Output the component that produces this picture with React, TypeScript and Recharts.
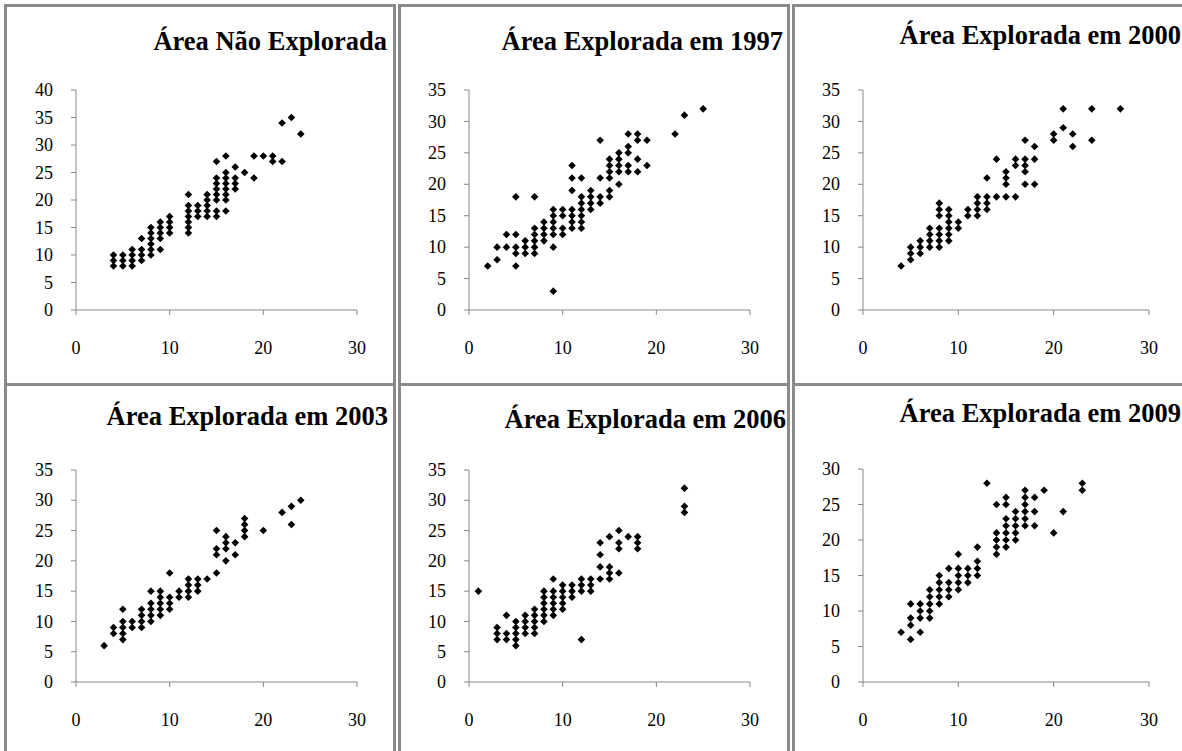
import { ScatterChart, Scatter, XAxis, YAxis } from 'recharts'

// Pontos (x, y). Cada painel é um ano/área.
const naoExplorada: [number, number][] = [
  [4, 10], [4, 9], [4, 8],
  [5, 10], [5, 9], [5, 8],
  [6, 11], [6, 10], [6, 9], [6, 8],
  [7, 13], [7, 11], [7, 10], [7, 9],
  [8, 15], [8, 14], [8, 13], [8, 12], [8, 11], [8, 10],
  [9, 16], [9, 15], [9, 14], [9, 13], [9, 11],
  [10, 17], [10, 16], [10, 15], [10, 14],
  [12, 21], [12, 19], [12, 18], [12, 17], [12, 16], [12, 15], [12, 14],
  [13, 19], [13, 18], [13, 17],
  [14, 21], [14, 20], [14, 19], [14, 18], [14, 17],
  [15, 27], [15, 24], [15, 23], [15, 22], [15, 21], [15, 20], [15, 18], [15, 17],
  [16, 28], [16, 25], [16, 24], [16, 23], [16, 22], [16, 21], [16, 20], [16, 18],
  [17, 26], [17, 24], [17, 23], [17, 22],
  [18, 25], [19, 28], [19, 24], [20, 28], [21, 28], [21, 27],
  [22, 34], [22, 27], [23, 35], [24, 32],
]

const explorada1997: [number, number][] = [
  [2, 7], [3, 10], [3, 8], [4, 12], [4, 10],
  [5, 18], [5, 12], [5, 10], [5, 9], [5, 7],
  [6, 11], [6, 10], [6, 9],
  [7, 18], [7, 13], [7, 12], [7, 11], [7, 10], [7, 9],
  [8, 14], [8, 13], [8, 12], [8, 11],
  [9, 16], [9, 15], [9, 14], [9, 13], [9, 12], [9, 10], [9, 3],
  [10, 16], [10, 15], [10, 13], [10, 12],
  [11, 23], [11, 21], [11, 19], [11, 16], [11, 15], [11, 14], [11, 13],
  [12, 21], [12, 18], [12, 17], [12, 16], [12, 15], [12, 14], [12, 13],
  [13, 19], [13, 18], [13, 17], [13, 16],
  [14, 27], [14, 21], [14, 18], [14, 17],
  [15, 24], [15, 23], [15, 22], [15, 21], [15, 19], [15, 18],
  [16, 25], [16, 24], [16, 23], [16, 22], [16, 20],
  [17, 28], [17, 26], [17, 25], [17, 23], [17, 22],
  [18, 28], [18, 27], [18, 24], [18, 22],
  [19, 27], [19, 23], [22, 28], [23, 31], [25, 32],
]

const explorada2000: [number, number][] = [
  [4, 7], [5, 10], [5, 9], [5, 8],
  [6, 11], [6, 10], [6, 9],
  [7, 13], [7, 12], [7, 11], [7, 10],
  [8, 17], [8, 16], [8, 15], [8, 13], [8, 12], [8, 11], [8, 10],
  [9, 16], [9, 15], [9, 14], [9, 13], [9, 12], [9, 11],
  [10, 14], [10, 13], [11, 16], [11, 15],
  [12, 18], [12, 17], [12, 16], [12, 15],
  [13, 21], [13, 18], [13, 17], [13, 16],
  [14, 24], [14, 18],
  [15, 22], [15, 21], [15, 20], [15, 18],
  [16, 24], [16, 23], [16, 18],
  [17, 27], [17, 24], [17, 23], [17, 22], [17, 20],
  [18, 26], [18, 24], [18, 20],
  [20, 28], [20, 27], [21, 32], [21, 29], [22, 28], [22, 26],
  [24, 32], [24, 27], [27, 32],
]

const explorada2003: [number, number][] = [
  [3, 6], [4, 9], [4, 8],
  [5, 12], [5, 10], [5, 9], [5, 8], [5, 7],
  [6, 10], [6, 9],
  [7, 12], [7, 11], [7, 10], [7, 9],
  [8, 15], [8, 13], [8, 12], [8, 11], [8, 10],
  [9, 15], [9, 14], [9, 13], [9, 12], [9, 11],
  [10, 18], [10, 14], [10, 13], [10, 12],
  [11, 15], [11, 14],
  [12, 17], [12, 16], [12, 15], [12, 14],
  [13, 17], [13, 16], [13, 15], [14, 17],
  [15, 25], [15, 22], [15, 21], [15, 18],
  [16, 24], [16, 23], [16, 22], [16, 20],
  [17, 23], [17, 21],
  [18, 27], [18, 26], [18, 25], [18, 24],
  [20, 25], [22, 28], [23, 29], [23, 26], [24, 30],
]

const explorada2006: [number, number][] = [
  [1, 15], [3, 9], [3, 8], [3, 7], [4, 11], [4, 8], [4, 7],
  [5, 10], [5, 9], [5, 8], [5, 7], [5, 6],
  [6, 11], [6, 10], [6, 9], [6, 8],
  [7, 12], [7, 11], [7, 10], [7, 9], [7, 8],
  [8, 15], [8, 14], [8, 13], [8, 12], [8, 11], [8, 10],
  [9, 17], [9, 15], [9, 14], [9, 13], [9, 12], [9, 11],
  [10, 16], [10, 15], [10, 14], [10, 13], [10, 12],
  [11, 16], [11, 15], [11, 14],
  [12, 17], [12, 16], [12, 15], [12, 7],
  [13, 17], [13, 16], [13, 15],
  [14, 23], [14, 21], [14, 19], [14, 17],
  [15, 24], [15, 19], [15, 18], [15, 17],
  [16, 25], [16, 23], [16, 22], [16, 18],
  [17, 24], [18, 24], [18, 23], [18, 22],
  [23, 32], [23, 29], [23, 28],
]

const explorada2009: [number, number][] = [
  [4, 7], [5, 11], [5, 9], [5, 8], [5, 6],
  [6, 11], [6, 10], [6, 9], [6, 7],
  [7, 13], [7, 12], [7, 11], [7, 10], [7, 9],
  [8, 15], [8, 14], [8, 13], [8, 12], [8, 11],
  [9, 16], [9, 14], [9, 13], [9, 12],
  [10, 18], [10, 16], [10, 15], [10, 14], [10, 13],
  [11, 16], [11, 15], [11, 14],
  [12, 19], [12, 17], [12, 16], [12, 15],
  [13, 28],
  [14, 25], [14, 21], [14, 20], [14, 19], [14, 18],
  [15, 26], [15, 25], [15, 23], [15, 22], [15, 21], [15, 20], [15, 19],
  [16, 24], [16, 23], [16, 22], [16, 21], [16, 20],
  [17, 27], [17, 26], [17, 25], [17, 24], [17, 23], [17, 22],
  [18, 26], [18, 24], [18, 22],
  [19, 27], [20, 21], [21, 24], [23, 28], [23, 27],
]

const titulos = [
  'Área Não Explorada',
  'Área Explorada em 1997',
  'Área Explorada em 2000',
  'Área Explorada em 2003',
  'Área Explorada em 2006',
  'Área Explorada em 2009',
]
const series = [naoExplorada, explorada1997, explorada2000, explorada2003, explorada2006, explorada2009]
const yMaximos = [40, 35, 35, 35, 35, 30]
const xTicks = [0, 10, 20, 30]

const EIXO = '#878787'
const MOLDURA = '#8a8a8a'
const FONTE = "'Liberation Serif', 'Times New Roman', serif"

// Área de plotagem de cada painel em coordenadas da página (medido na imagem).
const plots = [
  { l: 76, t: 90, w: 281, h: 220 },
  { l: 469, t: 90, w: 281, h: 220 },
  { l: 863, t: 90, w: 286, h: 220 },
  { l: 76, t: 470, w: 281, h: 212 },
  { l: 469, t: 470, w: 281, h: 212 },
  { l: 863, t: 469, w: 286, h: 213 },
]
// Título: borda direita e linha de base.
const titulosPos = [
  { r: 387, b: 50 },
  { r: 783, b: 50 },
  { r: 1181, b: 44 },
  { r: 388, b: 425 },
  { r: 786, b: 428 },
  { r: 1181, b: 422 },
]
const caixas = [
  { l: 4, t: 4, w: 392, h: 382 },
  { l: 398, t: 4, w: 392, h: 382 },
  { l: 792, t: 4, w: 400, h: 382 },
  { l: 4, t: 383, w: 392, h: 380 },
  { l: 398, t: 383, w: 392, h: 380 },
  { l: 792, t: 383, w: 400, h: 380 },
]

const Losango = (props: any) => {
  const { cx, cy } = props
  const r = 3.8
  return <polygon points={`${cx},${cy - r} ${cx + r},${cy} ${cx},${cy + r} ${cx - r},${cy}`} fill="#000" />
}

// Rótulos dos eixos desenhados à mão para garantir a fonte serifada.
const TickX = (props: any) => {
  const { x, y, payload } = props
  return (
    <text x={x} y={y} dy="0.71em" textAnchor="middle" fill="#000" style={{ fontFamily: FONTE, fontSize: 18 }}>
      {payload.value}
    </text>
  )
}
const TickY = (props: any) => {
  const { x, y, payload } = props
  return (
    <text x={x} y={y} dy="0.34em" textAnchor="end" fill="#000" style={{ fontFamily: FONTE, fontSize: 18 }}>
      {payload.value}
    </text>
  )
}

const Y_LARG = 60
const M_TOPO = 10
const M_DIR = 20
const X_ALT = 50
const TITULO_FS = 26.5

function Painel({ i }: { i: number }) {
  const p = plots[i]
  const yMax = yMaximos[i]
  const yTicks: number[] = []
  for (let v = 0; v <= yMax; v += 5) yTicks.push(v)
  const dados = series[i].map(([x, y]) => ({ x, y }))
  return (
    <div style={{ position: 'absolute', left: p.l - Y_LARG, top: p.t - M_TOPO }}>
      <ScatterChart
        width={Y_LARG + p.w + M_DIR}
        height={M_TOPO + p.h + X_ALT}
        margin={{ top: M_TOPO, right: M_DIR, bottom: 0, left: 0 }}
      >
        <XAxis
          type="number"
          dataKey="x"
          domain={[0, 30]}
          ticks={xTicks}
          interval={0}
          height={X_ALT}
          tickSize={5}
          tickMargin={26}
          axisLine={{ stroke: EIXO }}
          tickLine={{ stroke: EIXO }}
          tick={<TickX />}
        />
        <YAxis
          type="number"
          dataKey="y"
          domain={[0, yMax]}
          ticks={yTicks}
          interval={0}
          width={Y_LARG}
          tickSize={5}
          tickMargin={18}
          axisLine={{ stroke: EIXO }}
          tickLine={{ stroke: EIXO }}
          tick={<TickY />}
        />
        <Scatter data={dados} shape={<Losango />} isAnimationActive={false} />
      </ScatterChart>
    </div>
  )
}

export default function App() {
  return (
    <div
      style={{
        position: 'absolute',
        left: 0,
        top: 0,
        width: 1182,
        height: 751,
        overflow: 'hidden',
        background: '#fff',
        fontFamily: FONTE,
      }}
    >
      {caixas.map((c, i) => (
        <div
          key={'c' + i}
          style={{
            position: 'absolute',
            left: c.l,
            top: c.t,
            width: c.w,
            height: c.h,
            border: `3px solid ${MOLDURA}`,
            boxSizing: 'border-box',
          }}
        />
      ))}
      {titulos.map((t, i) => (
        <div
          key={'t' + i}
          style={{
            position: 'absolute',
            right: 1182 - titulosPos[i].r,
            top: titulosPos[i].b - 0.8375 * TITULO_FS,
            fontSize: TITULO_FS,
            lineHeight: 1,
            fontWeight: 'bold',
            whiteSpace: 'nowrap',
            color: '#000',
          }}
        >
          {t}
        </div>
      ))}
      {plots.map((_, i) => (
        <Painel key={'p' + i} i={i} />
      ))}
    </div>
  )
}
